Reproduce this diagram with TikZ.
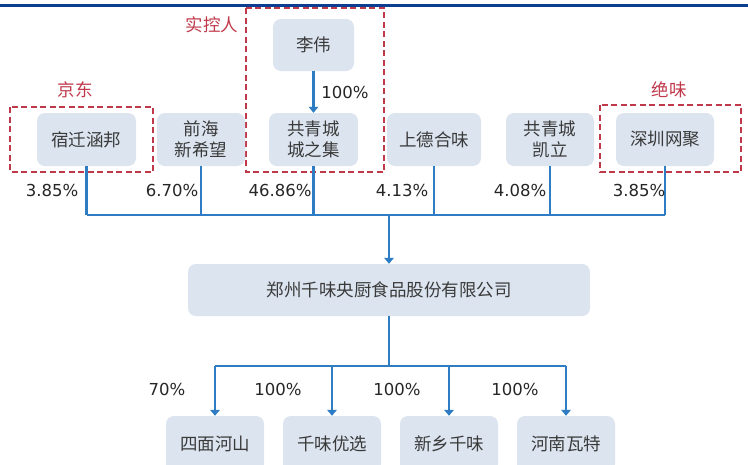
\documentclass[tikz,border=0pt]{standalone}
\usepackage{fontspec}
\setmainfont{DejaVu Sans}
\newfontfamily\cjk{Noto Sans CJK SC}
\usetikzlibrary{arrows.meta}
\definecolor{boxfill}{HTML}{DCE4F0}
\definecolor{linkblue}{HTML}{2E7CC4}
\definecolor{navy}{HTML}{0B3D91}
\definecolor{redd}{HTML}{C0394B}
\definecolor{txt}{HTML}{3A3A3A}
\begin{document}
\begin{tikzpicture}[x=1pt,y=-1pt,
  entity/.style={fill=boxfill, rounded corners=8pt, inner sep=0pt, align=center,
    text=txt, font=\cjk\fontsize{17.5}{21}\selectfont, minimum height=53pt},
  link/.style={draw=linkblue, line width=2.2pt},
  arr/.style={link, -{Triangle[width=9.5pt,length=6pt]}},
  pct/.style={text=black!85, font=\fontsize{16.5}{20}\selectfont, inner sep=0pt},
  grp/.style={draw=redd, line width=2pt, dash pattern=on 6pt off 3.5pt},
  grplabel/.style={text=redd, font=\cjk\fontsize{17.5}{20}\selectfont, inner sep=0pt}]
\clip (0,0) rectangle (748,464);
\fill[white] (0,0) rectangle (748,464);
% top rule
\draw[navy, line width=3.5pt] (0,5.5) -- (748,5.5);

% dashed groups
\draw[grp] (10,107) rectangle (153,172);
\draw[grp] (246,8) rectangle (384,172);
\draw[grp] (600,105) rectangle (741,172);
\node[grplabel] (lbjd) at (75,90) {京东};
\node[grplabel] (lbsk) at (212,25) {实控人};
\node[grplabel] (lbjw) at (669,90) {绝味};

% nodes
\node[entity, minimum width=81pt, minimum height=52pt] (liwei) at (313.5,45) {李伟};
\node[entity, minimum width=99pt] (sq) at (86.5,139.5) {宿迁涵邦};
\node[entity, minimum width=88pt] (qh) at (201,139.5) {前海\\新希望};
\node[entity, minimum width=89pt] (gq) at (313.5,139.5) {共青城\\城之集};
\node[entity, minimum width=94pt] (sd) at (434,139.5) {上德合味};
\node[entity, minimum width=88pt] (kl) at (550,139.5) {共青城\\凯立};
\node[entity, minimum width=98pt] (sz) at (665,139.5) {深圳网聚};
\node[entity, minimum width=402pt, minimum height=52pt] (main) at (389,290) {郑州千味央厨食品股份有限公司};
\node[entity, minimum width=98pt, minimum height=56pt] (c1) at (215,444) {四面河山};
\node[entity, minimum width=98pt, minimum height=56pt] (c2) at (332,444) {千味优选};
\node[entity, minimum width=98pt, minimum height=56pt] (c3) at (449,444) {新乡千味};
\node[entity, minimum width=98pt, minimum height=56pt] (c4) at (566,444) {河南瓦特};

\coordinate (bus) at (389,215);
\coordinate (bus2) at (389,366);

% connectors
\draw[arr] (liwei) -- (gq);
\foreach \n in {sq,qh,gq,sd,kl,sz}{
  \draw[link] (\n.south) -- (\n.south |- bus);
}
\draw[link] (sq.south |- bus) -- (sz.south |- bus);
\draw[arr] (bus) -- (main.north);
\draw[link] (main.south) -- (bus2);
\draw[link] (c1.north |- bus2) -- (c4.north |- bus2);
\foreach \n in {c1,c2,c3,c4}{
  \draw[arr] (\n.north |- bus2) -- (\n.north);
}

% percentages
\node[pct] (p0) at (345,92) {100\%};
\node[pct] (p1) at (52,190) {3.85\%};
\node[pct] (p2) at (172,190) {6.70\%};
\node[pct] (p3) at (280,190) {46.86\%};
\node[pct] (p4) at (402,190) {4.13\%};
\node[pct] (p5) at (520,190) {4.08\%};
\node[pct] (p6) at (639,190) {3.85\%};
\node[pct] (q1) at (167,389) {70\%};
\node[pct] (q2) at (278,389) {100\%};
\node[pct] (q3) at (397,389) {100\%};
\node[pct] (q4) at (515,389) {100\%};
\end{tikzpicture}
\end{document}
